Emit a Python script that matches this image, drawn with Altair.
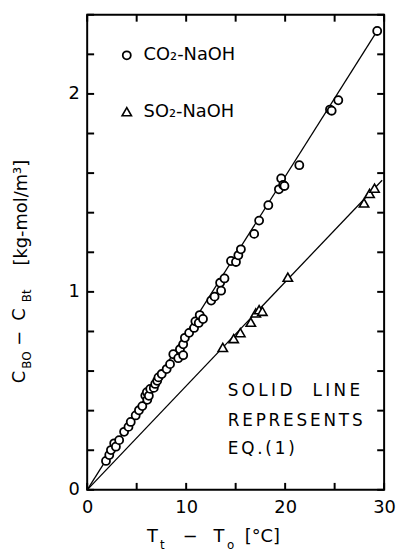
import altair as alt
import pandas as pd

# ---- data ----
co2_x = [1.9, 2.23, 2.4, 2.73, 2.9, 3.23, 3.73, 4.17, 4.4, 4.9, 5.23, 5.57, 5.87, 6.03, 6.07,
         6.23, 6.37, 6.73, 6.87, 7.07, 7.2, 7.53, 8.03, 8.37, 8.7, 9.2, 9.37, 9.7, 9.7, 9.87,
         10.3, 10.8, 10.93, 11.27, 11.37, 11.7, 12.53, 12.87, 13.43, 13.53, 13.87, 14.53,
         15.03, 15.27, 15.53, 16.87, 17.37, 18.3, 19.37, 19.6, 19.8, 19.93, 21.43, 24.53,
         24.7, 25.37, 29.3]
co2_y = [0.146, 0.176, 0.201, 0.235, 0.218, 0.251, 0.293, 0.318, 0.343, 0.376, 0.402, 0.423,
         0.476, 0.493, 0.455, 0.475, 0.51, 0.515, 0.535, 0.551, 0.568, 0.585, 0.61, 0.635,
         0.685, 0.665, 0.71, 0.68, 0.735, 0.768, 0.793, 0.818, 0.851, 0.843, 0.883, 0.863,
         0.956, 0.976, 1.046, 1.006, 1.068, 1.156, 1.151, 1.185, 1.215, 1.293, 1.36, 1.438,
         1.518, 1.573, 1.54, 1.535, 1.64, 1.921, 1.915, 1.968, 2.318]
so2_x = [13.7, 14.8, 15.47, 16.53, 17.03, 17.37, 17.7, 20.27, 27.97, 28.53, 29.03]
so2_y = [0.719, 0.764, 0.794, 0.847, 0.894, 0.91, 0.902, 1.074, 1.449, 1.497, 1.524]

co2_line_x = [0, 29.3]
co2_line_y = [0, 2.318]
so2_line_x = [0, 29.8]
so2_line_y = [0, 1.564]

x_ticks = [0, 5, 10, 15, 20, 25, 30]
y_ticks = [0, 0.2, 0.4, 0.6, 0.8, 1.0, 1.2, 1.4, 1.6, 1.8, 2.0, 2.2, 2.4]
x_labels = [0, 10, 20, 30]
y_labels = [0, 1, 2]

W, H = 300, 480
X0, X1, Y0, Y1 = 0, 30, 0, 2.4
FONT = "DejaVu Sans"
TL = 7  # inward tick length, px

xs = alt.Scale(domain=[X0, X1], nice=False, zero=False)
ys = alt.Scale(domain=[Y0, Y1], nice=False, zero=False)

co2 = pd.DataFrame({"x": co2_x, "y": co2_y})
so2 = pd.DataFrame({"x": so2_x, "y": so2_y})
co2_line = pd.DataFrame({"x": co2_line_x, "y": co2_line_y})
so2_line = pd.DataFrame({"x": so2_line_x, "y": so2_line_y})

# inward tick segments on all four sides, in data units
dx = TL * (X1 - X0) / W
dy = TL * (Y1 - Y0) / H
tick_rows = []
for v in x_ticks:
    tick_rows.append({"x": v, "x2": v, "y": Y0, "y2": Y0 + dy})
    tick_rows.append({"x": v, "x2": v, "y": Y1 - dy, "y2": Y1})
for v in y_ticks:
    tick_rows.append({"x": X0, "x2": X0 + dx, "y": v, "y2": v})
    tick_rows.append({"x": X1 - dx, "x2": X1, "y": v, "y2": v})
ticks_df = pd.DataFrame(tick_rows)

x_bottom = alt.Axis(orient="bottom", values=x_labels, ticks=False, domain=False, grid=False,
                    title=None, labelFont=FONT, labelFontSize=18, labelColor="black",
                    labelFlush=False, labelPadding=9, format="d")
y_left = alt.Axis(orient="left", values=y_labels, ticks=False, domain=False, grid=False,
                  title=None, labelFont=FONT, labelFontSize=18, labelColor="black",
                  labelFlush=False, labelPadding=8, format="d")

line_co2 = alt.Chart(co2_line).mark_line(color="black", strokeWidth=1.3).encode(
    x=alt.X("x:Q", scale=xs, axis=x_bottom), y=alt.Y("y:Q", scale=ys, axis=y_left))
line_so2 = alt.Chart(so2_line).mark_line(color="black", strokeWidth=1.3).encode(
    x=alt.X("x:Q", scale=xs), y=alt.Y("y:Q", scale=ys))

ticks = alt.Chart(ticks_df).mark_rule(color="black", strokeWidth=2).encode(
    x=alt.X("x:Q", scale=xs), x2="x2:Q",
    y=alt.Y("y:Q", scale=ys), y2="y2:Q")

pts_co2 = alt.Chart(co2).mark_point(shape="circle", size=66, fill="white",
                                    fillOpacity=1, stroke="black", strokeWidth=1.8,
                                    opacity=1).encode(
    x=alt.X("x:Q", scale=xs), y=alt.Y("y:Q", scale=ys))
pts_so2 = alt.Chart(so2).mark_point(shape="triangle-up", size=90, fill="white",
                                    fillOpacity=1, stroke="black", strokeWidth=1.6,
                                    opacity=1).encode(
    x=alt.X("x:Q", scale=xs), y=alt.Y("y:Q", scale=ys))

# legend glyphs
leg_c = alt.Chart(pd.DataFrame({"a": [0]})).mark_point(
    shape="circle", size=66, fill="white", fillOpacity=1, stroke="black",
    strokeWidth=1.8, opacity=1).encode(x=alt.value(40), y=alt.value(41))
leg_t = alt.Chart(pd.DataFrame({"a": [0]})).mark_point(
    shape="triangle-up", size=90, fill="white", fillOpacity=1, stroke="black",
    strokeWidth=1.6, opacity=1).encode(x=alt.value(40), y=alt.value(98))

# centred text pieces (axis titles with subscripts)
ctext = pd.DataFrame([
    {"t": "C", "px": -68, "py": 366, "fs": 18, "ang": 270},
    {"t": "BO", "px": -61, "py": 349, "fs": 12, "ang": 270},
    {"t": "\u2212", "px": -68, "py": 327, "fs": 18, "ang": 270},
    {"t": "C", "px": -68, "py": 303, "fs": 18, "ang": 270},
    {"t": "Bt", "px": -61, "py": 284, "fs": 12, "ang": 270},
    {"t": "[kg-mol/m\u00b3]", "px": -66, "py": 200, "fs": 18, "ang": 270},
    {"t": "T", "px": 66, "py": 528, "fs": 18, "ang": 0},
    {"t": "t", "px": 76, "py": 536, "fs": 12, "ang": 0},
    {"t": "\u2212", "px": 104, "py": 528, "fs": 18, "ang": 0},
    {"t": "T", "px": 133, "py": 528, "fs": 18, "ang": 0},
    {"t": "o", "px": 145, "py": 536, "fs": 12, "ang": 0},
    {"t": "[\u00b0C]", "px": 177, "py": 528, "fs": 18, "ang": 0},
])
ctext_layer = alt.Chart(ctext).mark_text(font=FONT, color="black", align="center",
                                         baseline="middle").encode(
    x=alt.X("px:Q", scale=None, axis=None), y=alt.Y("py:Q", scale=None, axis=None),
    text="t:N", size=alt.Size("fs:Q", scale=None), angle=alt.Angle("ang:Q", scale=None))

th, six, em = "\u2009", "\u2006", "\u2003"
ltext = pd.DataFrame([
    {"t": "CO\u2082-NaOH", "px": 57, "py": 41, "fs": 18},
    {"t": "SO\u2082-NaOH", "px": 57, "py": 98, "fs": 18},
    {"t": th.join("SOLID") + em + th + th.join("LINE"), "px": 142, "py": 380, "fs": 17},
    {"t": six.join("REPRESENTS"), "px": 142, "py": 410, "fs": 17},
    {"t": six.join("EQ.(1)"), "px": 142, "py": 439, "fs": 17},
])
ltext_layer = alt.Chart(ltext).mark_text(font=FONT, color="black", align="left",
                                         baseline="middle").encode(
    x=alt.X("px:Q", scale=None, axis=None), y=alt.Y("py:Q", scale=None, axis=None),
    text="t:N", size=alt.Size("fs:Q", scale=None))

chart = alt.layer(
    line_co2, line_so2, ticks, pts_co2, pts_so2,
    leg_c, leg_t, ctext_layer, ltext_layer,
).properties(
    width=W, height=H,
    autosize=alt.AutoSizeParams(type="none"),
    padding={"left": 80, "top": 4, "right": 12, "bottom": 60},
    background="white",
).configure_view(stroke="black", strokeWidth=2)

chart.save("out.html", embed_options={"renderer": "svg", "actions": False})
